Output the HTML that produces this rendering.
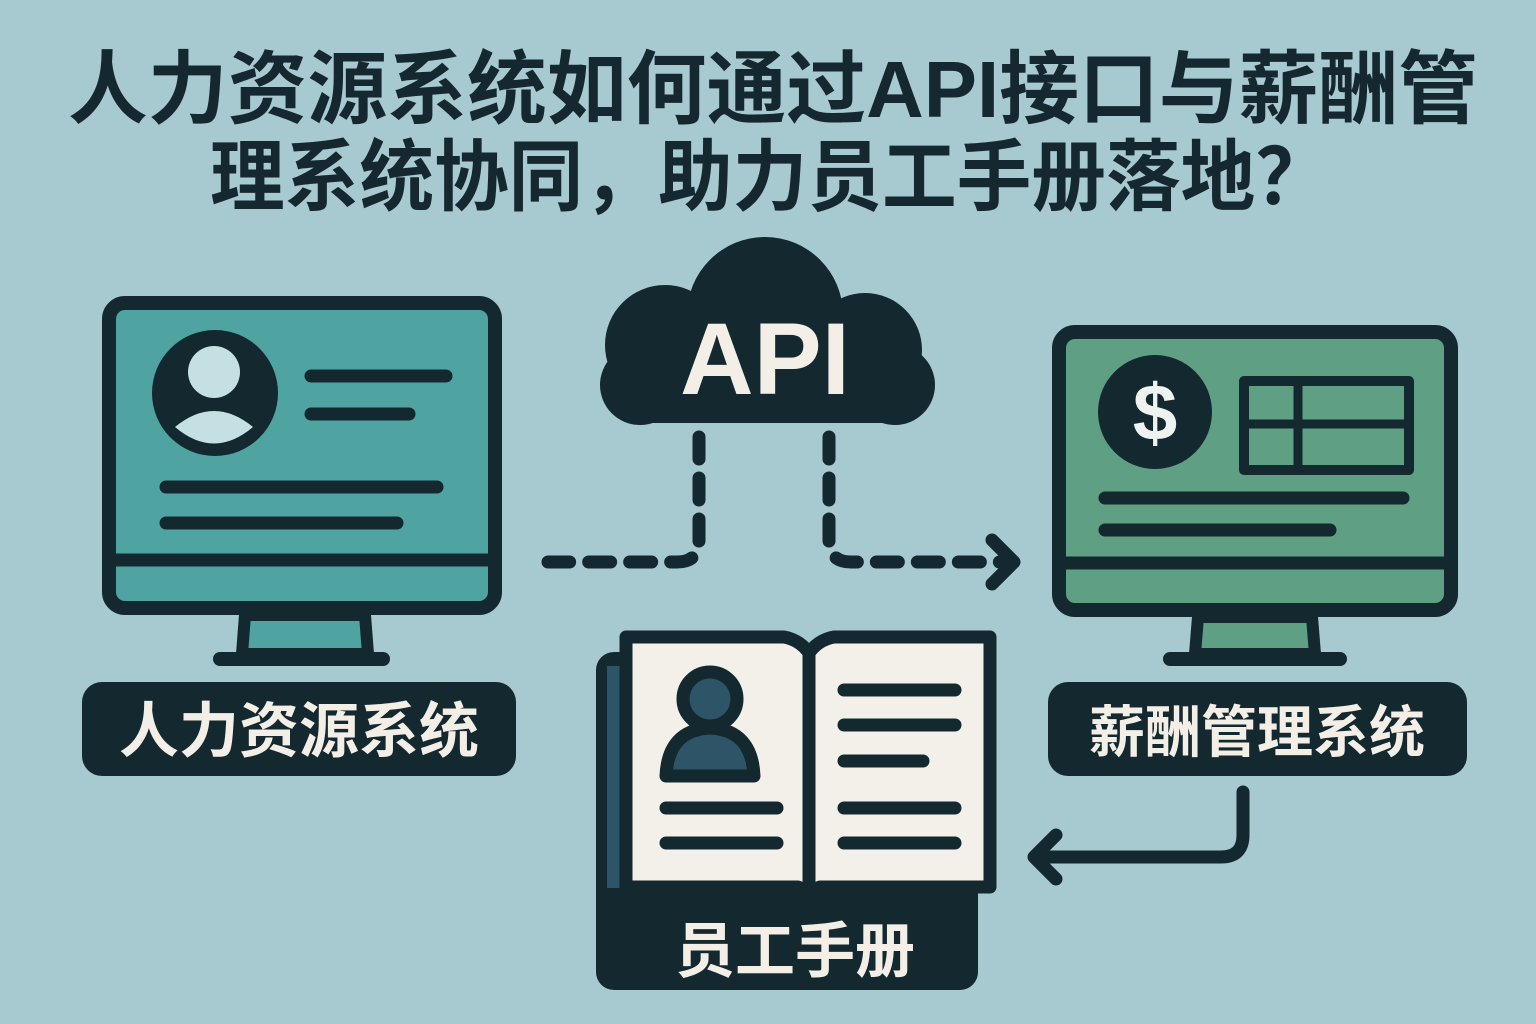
<!DOCTYPE html>
<html><head><meta charset="utf-8"><style>
html,body{margin:0;padding:0;background:#a7c9d0;}
svg{display:block}
</style></head><body>
<svg width="1536" height="1024" viewBox="0 0 1536 1024" xmlns="http://www.w3.org/2000/svg">
<rect width="1536" height="1024" fill="#a7c9d0"/>
<g font-family="'Liberation Sans','Noto Sans CJK SC',sans-serif" font-weight="bold" fill="#16282f">
<text x="773" y="117" font-size="80" text-anchor="middle" textLength="1410" lengthAdjust="spacingAndGlyphs">人力资源系统如何通过API接口与薪酬管</text>
<text x="770" y="204" font-size="78" text-anchor="middle" textLength="1120" lengthAdjust="spacingAndGlyphs">理系统协同，助力员工手册落地？</text>
</g>
<g stroke="#14282f" stroke-linecap="round" stroke-linejoin="round">
<rect x="109" y="303" width="386" height="305" rx="16" fill="#4fa3a0" stroke-width="14"/>
<line x1="109" y1="560" x2="495" y2="560" stroke-width="13"/>
<path d="M245 615 L365 615 L368 654 L242 654 Z" fill="#4fa3a0" stroke-width="12"/>
<line x1="220" y1="659" x2="383" y2="659" stroke-width="14"/>
<circle cx="215" cy="393" r="63" fill="#14282f" stroke="none"/>
<circle cx="214" cy="372" r="26" fill="#c4e0e2" stroke="none"/>
<path d="M175 427 Q214 395 253 427 Q214 460 175 427 Z" fill="#c4e0e2" stroke="none"/>
<line x1="311" y1="376" x2="446" y2="376" stroke-width="13"/>
<line x1="311" y1="414" x2="409" y2="414" stroke-width="13"/>
<line x1="166" y1="487" x2="437" y2="487" stroke-width="13"/>
<line x1="166" y1="523" x2="397" y2="523" stroke-width="13"/>
<rect x="1059" y="332" width="392" height="278" rx="16" fill="#5f9f83" stroke-width="14"/>
<line x1="1059" y1="563" x2="1451" y2="563" stroke-width="13"/>
<path d="M1198 617 L1312 617 L1315 654 L1195 654 Z" fill="#5f9f83" stroke-width="12"/>
<line x1="1170" y1="659" x2="1340" y2="659" stroke-width="14"/>
<circle cx="1155" cy="412" r="57" fill="#14282f" stroke="none"/>
<rect x="1244" y="381" width="165" height="89" fill="none" stroke-width="10" stroke-linecap="butt"/>
<line x1="1244" y1="424" x2="1409" y2="424" stroke-width="9"/>
<line x1="1298" y1="381" x2="1298" y2="470" stroke-width="9"/>
<line x1="1105" y1="498" x2="1403" y2="498" stroke-width="13"/>
<line x1="1105" y1="530" x2="1330" y2="530" stroke-width="13"/>
</g>
<text x="1155" y="440" font-size="80" font-family="'Liberation Sans',sans-serif" font-weight="bold" fill="#eef3ef" text-anchor="middle">$</text>
<rect x="82" y="682" width="434" height="94" rx="20" fill="#14282f"/>
<text x="299" y="752" font-size="60" font-family="'Liberation Sans','Noto Sans CJK SC',sans-serif" font-weight="bold" fill="#f3efe6" text-anchor="middle">人力资源系统</text>
<rect x="1048" y="682" width="419" height="94" rx="20" fill="#14282f"/>
<text x="1257" y="752" font-size="56" font-family="'Liberation Sans','Noto Sans CJK SC',sans-serif" font-weight="bold" fill="#f3efe6" text-anchor="middle">薪酬管理系统</text>
<g fill="#14282f">
<circle cx="765" cy="315" r="78"/>
<circle cx="665" cy="345" r="60"/>
<circle cx="865" cy="350" r="57"/>
<circle cx="640" cy="385" r="40"/>
<circle cx="895" cy="385" r="40"/>
<rect x="640" y="360" width="255" height="63"/>
</g>
<text x="765" y="394" font-size="102" font-family="'Liberation Sans',sans-serif" font-weight="bold" fill="#f3efe6" text-anchor="middle">API</text>
<g fill="none" stroke="#14282f" stroke-width="13" stroke-linecap="round">
<path d="M699 437 L699 540 Q699 562 677 562 L548 562" stroke-dasharray="22 19"/>
<path d="M829 437 L829 540 Q829 562 851 562 L1000 562" stroke-dasharray="22 19"/>
<path d="M992 540 L1014 562 L992 584" stroke-linejoin="round"/>
<path d="M1243 792 L1243 835 Q1243 857 1221 857 L1035 857"/>
<path d="M1056 835 L1034 857 L1056 879" stroke-linejoin="round"/>
</g>
<rect x="596" y="652" width="382" height="338" rx="18" fill="#14282f"/>
<rect x="607" y="666" width="360" height="222" fill="#2e5468"/>
<g stroke="#14282f" stroke-width="13" stroke-linejoin="round" stroke-linecap="round">
<path d="M626 637 L784 637 Q800 640 809 653 Q818 640 834 637 L990 637 L990 887 L820 887 Q812 890 809 896 Q806 890 798 887 L626 887 Z" fill="#f3f0ea"/>
<line x1="809" y1="653" x2="809" y2="893"/>
<circle cx="710" cy="699" r="27" fill="#2e5468" stroke-width="13"/>
<path d="M666 776 Q668 730 710 728 Q752 730 754 776 Z" fill="#2e5468"/>
<line x1="666" y1="808" x2="777" y2="808"/>
<line x1="666" y1="843" x2="777" y2="843"/>
<line x1="844" y1="690" x2="955" y2="690"/>
<line x1="844" y1="725" x2="955" y2="725"/>
<line x1="844" y1="761" x2="923" y2="761"/>
<line x1="844" y1="808" x2="955" y2="808"/>
<line x1="844" y1="843" x2="955" y2="843"/>
</g>
<text x="795" y="972" font-size="60" font-family="'Liberation Sans','Noto Sans CJK SC',sans-serif" font-weight="bold" fill="#f3efe6" text-anchor="middle">员工手册</text>
</svg>
</body></html>
